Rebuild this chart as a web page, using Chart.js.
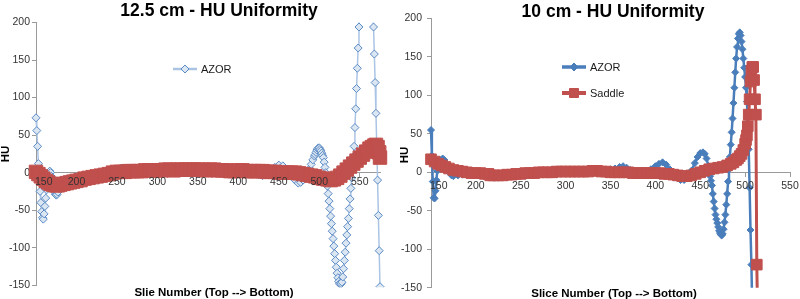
<!DOCTYPE html>
<html>
<head>
<meta charset="utf-8">
<title>HU Uniformity</title>
<script src="https://cdn.jsdelivr.net/npm/chart.js@4.4.0/dist/chart.umd.min.js"></script>
<style>
  body { margin: 0; background: #fff; overflow: hidden; }
  .wrap { position: absolute; top: 0; width: 400px; height: 299px; }
</style>
</head>
<body>
<div class="wrap" style="left:0"><canvas id="left" width="400" height="299"></canvas></div>
<div class="wrap" style="left:400px"><canvas id="right" width="400" height="299"></canvas></div>

<script>
// 12.5 cm phantom, slice number vs HU
const leftAzorSlice = [150,151,152,153,154,155,156,157,158,159,160,161,162,163,164,165,166,167,168,169,170,171,172,173,174,175,176,177,179,181,184,187,190,195,200,205,210,215,220,225,230,235,240,245,250,255,260,265,270,275,280,285,290,295,300,305,310,315,320,325,330,335,340,345,350,355,360,365,370,375,380,385,390,395,400,405,410,415,420,425,430,435,440,445,450,455,460,465,470,474,477,480,483,486,488,490,492,494,495,496,497,498,499,500,501,502,503,504,505,506,507,508,509,510,511,512,513,514,515,516,517,518,519,520,521,522,523,524,525,526,527,528,529,530,531,532,533,534,535,536,537,538,539,540,541,542,543,544,545,546,547,548,549,550,566,567,568,569,570,571,572,573,574,575];
const leftAzorHU = [73,56,35,12,-8,-25,-40,-52,-60,-62,-55,-45,-34,-23,-13,-5,0,2,0,-5,-11,-17,-22,-26,-29,-30,-29,-26,-21,-17,-13,-11,-10,-9,-8,-6,-5,-4,-3,-3,-2,-1,0,1,3,6,5,2,2,3,3,3,3,4,4,3,3,4,4,5,5,4,4,3,3,3,3,3,3,3,3,3,4,5,6,7,7,4,0,-3,-4,-2,3,7,10,9,4,-3,-10,-14,-13,-10,-6,0,5,11,17,22,24,27,30,32,33,33,31,29,26,23,20,14,7,0,-9,-18,-28,-38,-48,-58,-68,-78,-88,-98,-108,-117,-126,-134,-140,-145,-148,-149,-148,-146,-139,-128,-117,-106,-94,-83,-72,-61,-48,-35,-21,-7,7,21,35,60,85,112,139,166,194,222,222,194,158,120,79,35,-10,-57,-104,-152];

const leftSaddleSlice = [150,153,156,159,162,165,168,171,174,177,180,184,188,192,196,200,205,210,215,220,225,230,235,240,245,250,255,260,265,270,275,280,285,290,295,300,305,310,315,320,325,330,335,340,345,350,355,360,365,370,375,380,385,390,395,400,405,410,415,420,425,430,435,440,445,450,455,460,465,470,475,480,485,490,495,500,505,510,514,518,522,526,530,534,538,542,546,550,554,558,562,565,568,570,572,574,575,576,577];
const leftSaddleHU = [1,-2,-5,-8,-11,-13,-15,-16,-17,-17,-16,-15,-14,-13,-12,-11,-10,-8,-7,-6,-5,-4,-3,-2,0,1,1,1,2,2,2,2,3,3,3,3,3,4,4,3,4,4,4,4,4,4,4,3,4,4,3,3,3,2,2,3,3,2,2,2,2,2,1,1,1,0,0,0,0,0,-1,-2,-3,-4,-5,-7,-8,-9,-10,-9,-7,-4,0,4,8,12,16,20,24,28,32,34,36,37,34,27,20,13,8];

// 10 cm phantom
const rightAzorSlice = [150,151,152,153,154,155,156,157,158,159,161,163,165,167,169,171,173,175,180,185,190,195,200,205,210,215,220,225,230,235,240,245,250,255,260,265,270,275,280,285,290,295,300,305,310,315,320,325,330,335,340,345,350,355,360,364,368,372,376,380,385,390,395,400,404,408,412,416,420,424,428,432,436,440,444,447,450,453,455,457,459,461,462,463,464,465,466,467,468,469,470,471,472,473,474,475,476,477,478,479,480,481,482,483,484,485,486,487,488,489,490,491,492,493,494,495,496,497,498,499,500,501,502,503,504,505,506,507,508];
const rightAzorHU = [55,22,-12,-33,-34,-24,-10,2,9,13,16,18,16,10,4,-1,-4,-5,-4,-3,-2,-2,-1,-1,-1,-2,-3,-3,-2,-2,-1,-1,0,0,0,0,0,1,1,1,1,1,1,2,2,2,2,2,2,2,2,3,4,5,7,8,6,3,0,-1,-1,1,4,8,11,13,10,4,-2,-7,-10,-10,-6,2,12,20,25,26,24,18,8,-5,-11,-17,-28,-38,-47,-55,-61,-66,-71,-76,-79,-81,-82,-80,-74,-65,-55,-42,-28,-12,4,20,36,52,70,90,110,130,148,163,174,180,182,178,170,160,148,136,124,110,92,65,30,-20,-75,-120,-180];

const rightSaddleSlice = [150,154,158,162,166,170,175,180,185,190,195,200,205,210,214,216,220,225,230,235,240,245,250,255,260,265,270,275,280,285,290,295,300,305,310,315,320,325,330,335,340,345,350,355,360,365,370,375,380,385,390,395,400,405,410,415,420,425,430,435,440,445,450,455,460,465,470,475,480,484,487,490,492,494,496,498,500,501,502,503,504,505,506,507,508,509,510,511,512,513,514];
const rightSaddleHU = [17,14,11,9,7,5,3,2,1,0,-1,-1,-1,-2,-2,-4,-4,-4,-4,-3,-3,-2,-2,-1,-1,-1,0,0,0,0,1,1,1,1,1,1,1,1,2,2,1,1,0,0,0,0,0,-1,-1,-1,-1,-1,-1,-1,-2,-2,-3,-4,-5,-5,-4,-2,0,2,4,5,6,7,9,11,13,16,18,21,24,29,37,42,48,60,75,95,118,132,137,137,120,95,75,-120,-190];

const xTickValues = [150, 200, 250, 300, 350, 400, 450, 500, 550];
const yMin = -150, yMax = 200, yStep = 50;

function pts(xs, ys) {
  return xs.map((x, i) => ({ x: x, y: ys[i] }));
}

const red = '#c0504d';
const tickFont = { family: 'Liberation Sans', size: 10.5 };
const axisGray = '#9a9a9a';

// titles, x tick labels (drawn over the data, first one kept inside the axis) and legend
const overlayText = {
  id: 'overlayText',
  afterDatasetsDraw(chart, args, o) {
    const ctx = chart.ctx;
    const xs = chart.scales.x;
    const y0 = chart.scales.y.getPixelForValue(0);
    ctx.save();
    ctx.font = '10.5px "Liberation Sans"';
    ctx.fillStyle = '#333';
    ctx.textBaseline = 'top';
    xs.ticks.forEach((t, i) => {
      const px = xs.getPixelForValue(t.value);
      ctx.textAlign = i === 0 ? 'left' : 'center';
      ctx.fillText(String(t.value), i === 0 ? px - 1 : px, y0 + o.xLabelGap);
    });
    ctx.restore();
  },
  afterDraw(chart, args, o) {
    const ctx = chart.ctx;
    ctx.save();
    ctx.fillStyle = '#000';
    ctx.textAlign = 'center';
    ctx.textBaseline = 'alphabetic';
    ctx.font = 'bold 17.5px "Liberation Sans"';
    ctx.fillText(o.title, o.titleX, o.titleY);
    ctx.font = 'bold 11.5px "Liberation Sans"';
    ctx.fillText(o.xTitle, o.xTitleX, o.xTitleY);
    ctx.save();
    ctx.translate(o.yTitleX, o.yTitleY);
    ctx.rotate(-Math.PI / 2);
    ctx.textBaseline = 'middle';
    ctx.fillText(o.yTitle, 0, 0);
    ctx.restore();

    o.legend.forEach(item => {
      const ds = chart.data.datasets[item.ds];
      ctx.strokeStyle = ds.borderColor;
      ctx.lineWidth = item.lineWidth;
      ctx.beginPath();
      ctx.moveTo(item.x, item.y);
      ctx.lineTo(item.x + 24, item.y);
      ctx.stroke();
      const cx = item.x + 12, cy = item.y, r = item.r;
      ctx.beginPath();
      if (ds.pointStyle === 'rect') {
        ctx.rect(cx - r, cy - r, 2 * r, 2 * r);
      } else {
        ctx.moveTo(cx, cy - r); ctx.lineTo(cx + r, cy);
        ctx.lineTo(cx, cy + r); ctx.lineTo(cx - r, cy);
        ctx.closePath();
      }
      ctx.fillStyle = ds.pointBackgroundColor;
      ctx.fill();
      ctx.lineWidth = 1;
      ctx.strokeStyle = ds.pointBorderColor;
      ctx.stroke();
      ctx.fillStyle = '#1a1a1a';
      ctx.textAlign = 'left';
      ctx.textBaseline = 'middle';
      ctx.font = '11px "Liberation Sans"';
      ctx.fillText(ds.label, item.x + 28, item.y + 0.5);
    });
    ctx.restore();
  }
};

function makeOptions(cfg) {
  return {
    responsive: false,
    animation: false,
    events: [],
    layout: { padding: cfg.padding },
    plugins: {
      legend: { display: false },
      tooltip: { enabled: false },
      overlayText: cfg.text
    },
    scales: {
      x: {
        type: 'linear',
        position: { y: 0 },
        min: 150,
        max: cfg.xMax,
        afterBuildTicks: (scale) => { scale.ticks = xTickValues.map(v => ({ value: v })); },
        grid: { display: true, drawOnChartArea: false, drawTicks: true, tickLength: 4, color: axisGray },
        border: { display: true, color: axisGray },
        ticks: { display: false, font: tickFont, maxRotation: 0, autoSkip: false }
      },
      y: {
        min: yMin,
        max: yMax,
        afterFit: (scale) => { scale.width = cfg.yWidth; },
        grid: { display: true, drawOnChartArea: false, drawTicks: true, tickLength: 4, color: axisGray },
        border: { display: true, color: axisGray },
        ticks: { stepSize: yStep, font: tickFont, color: '#333', padding: cfg.yLabelPad }
      }
    }
  };
}

new Chart(document.getElementById('left'), {
  type: 'line',
  data: {
    datasets: [
      {
        label: 'Saddle',
        data: pts(leftSaddleSlice, leftSaddleHU),
        borderColor: red,
        borderWidth: 3,
        pointStyle: 'rect',
        pointRadius: 9.5,
        pointBackgroundColor: red,
        pointBorderColor: red,
        pointBorderWidth: 1,
        clip: { left: 10, top: 0, right: 14, bottom: 2 },
        order: 0
      },
      {
        label: 'AZOR',
        data: pts(leftAzorSlice, leftAzorHU),
        borderColor: '#aac4e4',
        borderWidth: 1.5,
        pointStyle: 'rectRot',
        pointRadius: 4,
        pointBackgroundColor: '#dbe6f3',
        pointBorderColor: '#5b8ac4',
        pointBorderWidth: 1,
        clip: { left: 10, top: 0, right: 14, bottom: 2 },
        order: 1
      }
    ]
  },
  options: makeOptions({
    padding: { left: 0, top: 22.5, right: 20, bottom: 13.8 },
    xMax: 575,
    yWidth: 36,
    yLabelPad: 2,
    text: {
      title: '12.5 cm - HU Uniformity', titleX: 219, titleY: 16,
      xTitle: 'Slie Number (Top --> Bottom)', xTitleX: 214, xTitleY: 296,
      yTitle: 'HU', yTitleX: 5.5, yTitleY: 154,
      xLabelGap: 4,
      legend: [{ ds: 1, x: 173, y: 69, lineWidth: 2.5, r: 4 }]
    }
  }),
  plugins: [overlayText]
});

new Chart(document.getElementById('right'), {
  type: 'line',
  data: {
    datasets: [
      {
        label: 'Saddle',
        data: pts(rightSaddleSlice, rightSaddleHU),
        borderColor: red,
        borderWidth: 3,
        pointStyle: 'rect',
        pointRadius: 7.5,
        pointBackgroundColor: red,
        pointBorderColor: red,
        pointBorderWidth: 1,
        clip: { left: 10, top: 4, right: 10, bottom: 0 },
        order: 0
      },
      {
        label: 'AZOR',
        data: pts(rightAzorSlice, rightAzorHU),
        borderColor: '#4a7ebb',
        borderWidth: 2.5,
        pointStyle: 'rectRot',
        pointRadius: 3.5,
        pointBackgroundColor: '#4a7ebb',
        pointBorderColor: '#4a7ebb',
        pointBorderWidth: 1,
        clip: { left: 10, top: 4, right: 10, bottom: 0 },
        order: 1
      }
    ]
  },
  options: makeOptions({
    padding: { left: 0, top: 18.5, right: 10, bottom: 9 },
    xMax: 550,
    yWidth: 31,
    yLabelPad: 5,
    text: {
      title: '10 cm - HU Uniformity', titleX: 213, titleY: 16.5,
      xTitle: 'Slice Number (Top --> Bottom)', xTitleX: 214, xTitleY: 296.5,
      yTitle: 'HU', yTitleX: 4.5, yTitleY: 155,
      xLabelGap: 9,
      legend: [
        { ds: 1, x: 162, y: 67, lineWidth: 3.5, r: 4 },
        { ds: 0, x: 162, y: 93, lineWidth: 4, r: 4.5 }
      ]
    }
  }),
  plugins: [overlayText]
});
</script>
</body>
</html>
